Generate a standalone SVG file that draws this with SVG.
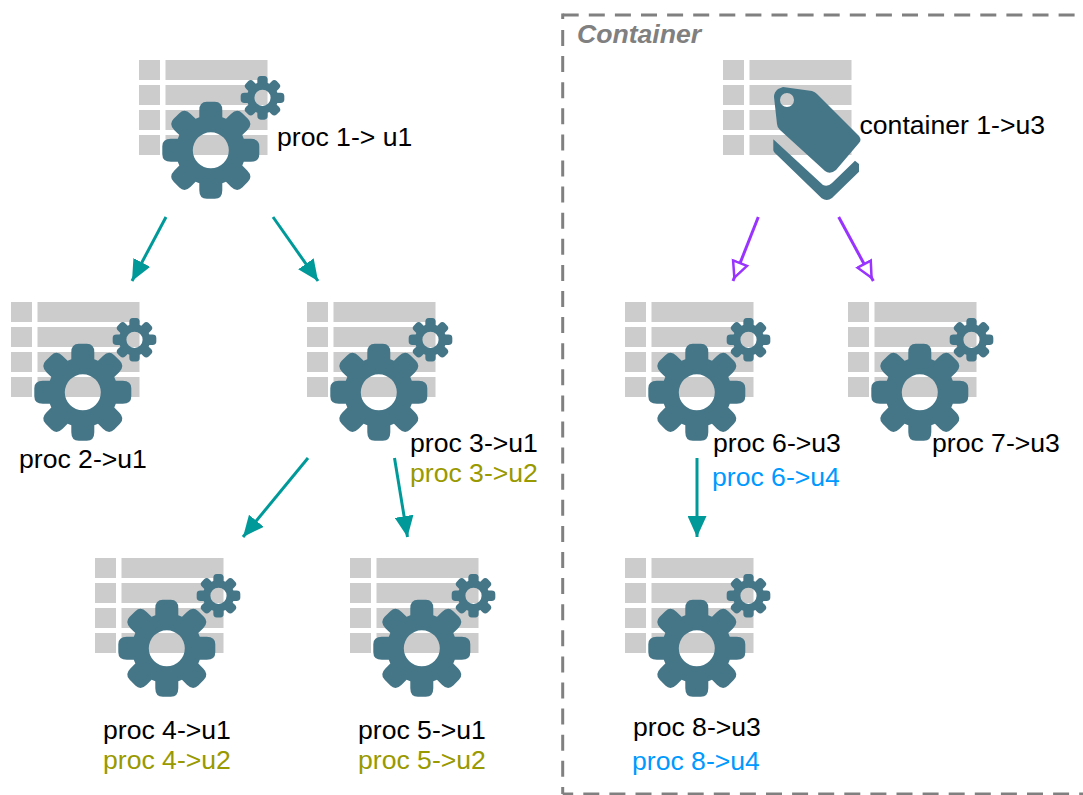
<svg xmlns="http://www.w3.org/2000/svg" width="1083" height="795" viewBox="0 0 1083 795">
<style>
text{font-family:"Liberation Sans",Arial,sans-serif;font-size:26.6px;fill:#000}
.o{fill:#999900}
.b{fill:#0099ff}
.c{font-weight:bold;font-style:italic;fill:#808080}
.cell{fill:#cccccc}
.icon{fill:#457688}
.t{fill:none;stroke:#009999;stroke-width:3}
.p{fill:none;stroke:#9933ff;stroke-width:3}
.box{fill:none;stroke:#808080;stroke-width:3;stroke-dasharray:16 10.100}
</style>
<defs>
<g id="table">
<rect class="cell" x="0" y="0" width="21" height="20"/><rect class="cell" x="26.500" y="0" width="102" height="20"/>
<rect class="cell" x="0" y="25" width="21" height="20"/><rect class="cell" x="26.500" y="25" width="102" height="20"/>
<rect class="cell" x="0" y="50" width="21" height="20"/><rect class="cell" x="26.500" y="50" width="102" height="20"/>
<rect class="cell" x="0" y="75" width="21" height="20"/><rect class="cell" x="26.500" y="75" width="102" height="20"/>
</g>
<path id="gear" class="icon" fill-rule="evenodd" d="M-11.500,-33L-11.500,-40Q-11.500,-48.500 -4,-48.500L4,-48.500Q11.500,-48.500 11.500,-40L11.500,-33L15.200,-31.470L20.150,-36.420Q26.160,-42.430 31.470,-37.120L37.120,-31.470Q42.430,-26.160 36.420,-20.150L31.470,-15.200L33,-11.500L40,-11.500Q48.500,-11.500 48.500,-4L48.500,4Q48.500,11.500 40,11.500L33,11.500L31.470,15.200L36.420,20.150Q42.430,26.160 37.120,31.470L31.470,37.120Q26.160,42.430 20.150,36.420L15.200,31.470L11.500,33L11.500,40Q11.500,48.500 4,48.500L-4,48.500Q-11.500,48.500 -11.500,40L-11.500,33L-15.200,31.470L-20.150,36.420Q-26.160,42.430 -31.470,37.120L-37.120,31.470Q-42.430,26.160 -36.420,20.150L-31.470,15.200L-33,11.500L-40,11.500Q-48.500,11.500 -48.500,4L-48.500,-4Q-48.500,-11.500 -40,-11.500L-33,-11.500L-31.470,-15.200L-36.420,-20.150Q-42.430,-26.160 -37.120,-31.470L-31.470,-37.120Q-26.160,-42.430 -20.150,-36.420L-15.200,-31.470ZM-18,0A18,18 0 1 0 18,0A18,18 0 1 0 -18,0Z"/>
<g id="proc">
<use href="#table"/>
<use href="#gear" transform="translate(71.800,90.300)"/>
<use href="#gear" transform="translate(123.500,37.800) scale(.45)"/>
</g>
<marker id="ta" markerUnits="userSpaceOnUse" markerWidth="22" markerHeight="19" refX="21" refY="9.500" orient="auto"><path d="M0,0L21,9.500L0,19Z" fill="#009999"/></marker>
<marker id="pa" markerUnits="userSpaceOnUse" markerWidth="24" markerHeight="20" refX="20.700" refY="10" orient="auto"><path d="M1.500,2.500L17,10L1.500,17.500Z" fill="#ffffff" stroke="#9933ff" stroke-width="2.500"/></marker>
</defs>
<rect width="1083" height="795" fill="#ffffff"/>
<g id="container">
<path class="box" d="M562.700,15H1083"/>
<path class="box" d="M562.700,13.500V19"/>
<path class="box" d="M562.700,30V794"/>
<path class="box" d="M562.700,794H1083" stroke-dashoffset="5.500"/>
<text class="c" x="577" y="43">Container</text>
</g>
<g id="connectors">
<line class="t" x1="166" y1="217" x2="132" y2="281" marker-end="url(#ta)"/>
<line class="t" x1="273" y1="217" x2="318" y2="281" marker-end="url(#ta)"/>
<line class="t" x1="308" y1="458" x2="243" y2="537" marker-end="url(#ta)"/>
<line class="t" x1="394.500" y1="458" x2="407.500" y2="537" marker-end="url(#ta)"/>
<line class="t" x1="697" y1="458" x2="697" y2="537" marker-end="url(#ta)"/>
<line class="p" x1="758.300" y1="217" x2="733" y2="281" marker-end="url(#pa)"/>
<line class="p" x1="838.700" y1="217" x2="873.300" y2="281" marker-end="url(#pa)"/>
</g>
<g id="proc1"><use href="#proc" transform="translate(139,60)"/><text x="277" y="145.500">proc 1-&gt; u1</text></g>
<g id="proc2"><use href="#proc" transform="translate(11,302)"/><text x="19" y="468">proc 2-&gt;u1</text></g>
<g id="proc3"><use href="#proc" transform="translate(307,302)"/><text x="410" y="451.500">proc 3-&gt;u1</text><text class="o" x="410" y="482">proc 3-&gt;u2</text></g>
<g id="proc4"><use href="#proc" transform="translate(95,558)"/><text x="103" y="739">proc 4-&gt;u1</text><text class="o" x="103" y="769">proc 4-&gt;u2</text></g>
<g id="proc5"><use href="#proc" transform="translate(350,558)"/><text x="358" y="739">proc 5-&gt;u1</text><text class="o" x="358" y="769">proc 5-&gt;u2</text></g>
<g id="proc6"><use href="#proc" transform="translate(625,302)"/><text x="713" y="452">proc 6-&gt;u3</text><text class="b" x="712" y="486">proc 6-&gt;u4</text></g>
<g id="proc7"><use href="#proc" transform="translate(848,302)"/><text x="932" y="452">proc 7-&gt;u3</text></g>
<g id="proc8"><use href="#proc" transform="translate(625,558)"/><text x="633" y="736">proc 8-&gt;u3</text><text class="b" x="632" y="770">proc 8-&gt;u4</text></g>
<g id="container1"><use href="#table" transform="translate(723,60)"/>
<path class="icon" fill-rule="evenodd" d="M774,97Q774,92 778,89L783,87L812,91Q815,92 817,94L859,136Q862,140 859,143L836,170Q830,175 825,171L780,130Q777,127 777,124ZM780,100A7,7 0 1 0 794,100A7,7 0 1 0 780,100Z"/>
<path class="icon" d="M773.300,139.300L823,185Q828,187 832,183L855,160.700L859,164L859,171.700L832,198Q827,202 821.700,198.300L777,155Q773.300,152 773.300,150Z"/>
<text x="859.500" y="134">container 1-&gt;u3</text></g>
</svg>
